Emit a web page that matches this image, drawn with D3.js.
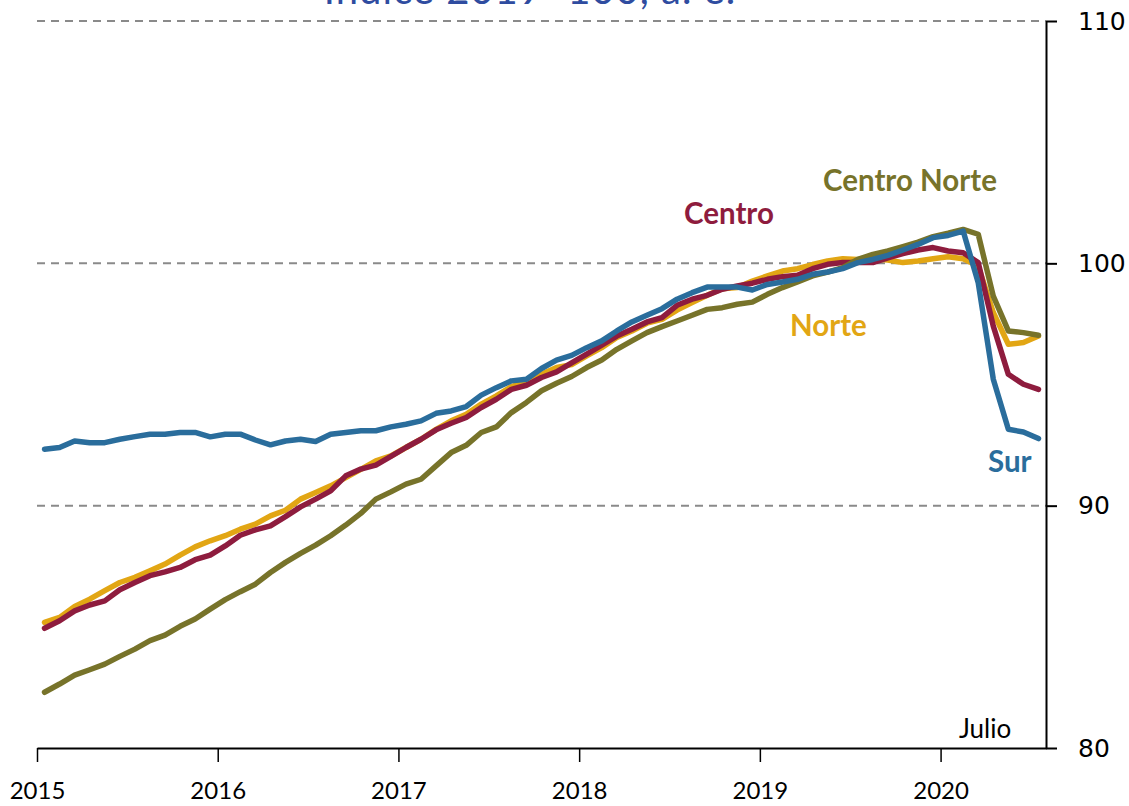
<!DOCTYPE html>
<html>
<head>
<meta charset="utf-8">
<script src="https://cdn.jsdelivr.net/npm/d3@7"></script>
<style>
  html, body { margin: 0; padding: 0; background: #fff; }
  svg { display: block; }
</style>
</head>
<body>
<svg id="chart" width="1129" height="806"></svg>
<script>
// ---- Data ----
const titleText = "Índice 2019=100, a. e.";
const years = ["2015", "2016", "2017", "2018", "2019", "2020"];
const months = d3.timeMonths(new Date(2015, 0, 1), new Date(2020, 7, 1)); // Jan 2015 .. Jul 2020
const yTicks = [80, 90, 100, 110];
const gridValues = [90, 100, 110];

const seriesNames = ["Norte", "Centro", "Centro Norte", "Sur"];

const norte = [
  85.18, 85.39, 85.84, 86.14, 86.49, 86.83, 87.04, 87.31, 87.59, 87.96, 88.30, 88.55,
  88.76, 89.03, 89.24, 89.58, 89.81, 90.27, 90.54, 90.82, 91.16, 91.50, 91.85, 92.05,
  92.40, 92.74, 93.15, 93.50, 93.77, 94.19, 94.53, 94.91, 95.11, 95.42, 95.70, 95.82,
  96.18, 96.52, 96.94, 97.21, 97.53, 97.69, 98.07, 98.38, 98.68, 98.95, 99.00, 99.27,
  99.48, 99.68, 99.78, 99.95, 100.10, 100.19, 100.16, 100.19, 100.14, 100.03, 100.10, 100.19,
  100.27, 100.19, 99.89, 97.97, 96.66, 96.73, 97.00
];
const centro = [
  84.94, 85.25, 85.66, 85.90, 86.07, 86.53, 86.83, 87.11, 87.27, 87.45, 87.77, 87.96,
  88.34, 88.78, 89.00, 89.17, 89.55, 89.95, 90.27, 90.61, 91.23, 91.51, 91.67, 92.03,
  92.40, 92.74, 93.13, 93.40, 93.64, 94.05, 94.39, 94.80, 94.97, 95.29, 95.52, 95.89,
  96.25, 96.62, 97.00, 97.28, 97.58, 97.76, 98.27, 98.52, 98.68, 98.93, 99.07, 99.18,
  99.34, 99.45, 99.51, 99.78, 99.96, 100.03, 100.03, 100.03, 100.23, 100.40, 100.55, 100.65,
  100.51, 100.44, 100.03, 97.41, 95.42, 95.01, 94.80
];
const centroNorte = [
  82.30, 82.64, 83.01, 83.23, 83.46, 83.78, 84.08, 84.43, 84.66, 85.02, 85.32, 85.73,
  86.12, 86.45, 86.76, 87.24, 87.66, 88.03, 88.37, 88.76, 89.20, 89.68, 90.27, 90.57,
  90.89, 91.09, 91.64, 92.19, 92.49, 93.02, 93.25, 93.84, 94.26, 94.74, 95.05, 95.33,
  95.70, 96.01, 96.45, 96.80, 97.14, 97.39, 97.62, 97.86, 98.10, 98.17, 98.31, 98.40,
  98.72, 99.00, 99.23, 99.48, 99.64, 99.82, 100.16, 100.37, 100.51, 100.69, 100.88, 101.10,
  101.24, 101.40, 101.20, 98.65, 97.21, 97.14, 97.03
];
const sur = [
  92.33, 92.40, 92.67, 92.60, 92.60, 92.74, 92.85, 92.95, 92.95, 93.02, 93.02, 92.84,
  92.95, 92.95, 92.71, 92.51, 92.67, 92.74, 92.65, 92.95, 93.02, 93.09, 93.09, 93.25,
  93.36, 93.50, 93.81, 93.91, 94.09, 94.56, 94.87, 95.15, 95.22, 95.66, 96.01, 96.20,
  96.52, 96.80, 97.21, 97.58, 97.86, 98.13, 98.52, 98.79, 99.02, 99.02, 99.02, 98.90,
  99.13, 99.23, 99.34, 99.55, 99.64, 99.78, 100.03, 100.16, 100.33, 100.55, 100.78, 101.06,
  101.15, 101.33, 99.20, 95.22, 93.15, 93.04, 92.77
];
const seriesValues = [norte, centro, centroNorte, sur];
const seriesColors = ["#E2A614", "#8E1C3E", "#77732A", "#2A6D9C"];

// ---- Layout ----
const svg = d3.select("#chart");
const plotLeft = 37, plotRight = 1046, plotTop = 21, plotBottom = 748;

const x = d3.scaleLinear().domain([0, months.length]).range([plotLeft, plotRight]);
const y = d3.scaleLinear().domain([80, 110]).range([plotBottom, plotTop]);

// title (cropped at the top edge, as in the source image)
svg.append("text")
  .attr("x", 530).attr("y", 4)
  .attr("text-anchor", "middle")
  .attr("font-family", "Lato, 'Open Sans', sans-serif")
  .attr("font-size", 40)
  .attr("letter-spacing", 1)
  .attr("fill", "#2F4CA0")
  .text(titleText);

// gridlines
svg.append("g").selectAll("line")
  .data(gridValues).join("line")
  .attr("x1", plotLeft).attr("x2", plotRight)
  .attr("y1", d => y(d)).attr("y2", d => y(d))
  .attr("stroke", "#8a8a8a")
  .attr("stroke-width", 2)
  .attr("stroke-dasharray", "8,6");

// x axis
const xAxis = d3.axisBottom(x)
  .tickValues(d3.range(0, months.length, 12))
  .tickFormat((d, i) => years[i])
  .tickSize(14)
  .tickSizeOuter(0)
  .tickPadding(20);
const gx = svg.append("g").attr("transform", `translate(0,${plotBottom})`).call(xAxis);
gx.select(".domain").attr("stroke", "#000").attr("stroke-width", 2);
gx.selectAll(".tick line").attr("stroke", "#000").attr("stroke-width", 1.5);
gx.selectAll(".tick text")
  .attr("font-family", "Lato, sans-serif")
  .attr("font-size", 24)
  .attr("fill", "#000");

// y axis (right)
const yAxis = d3.axisRight(y)
  .tickValues(yTicks)
  .tickSize(11)
  .tickSizeOuter(0)
  .tickPadding(21);
const gy = svg.append("g").attr("transform", `translate(${plotRight},0)`).call(yAxis);
gy.select(".domain").attr("stroke", "#000").attr("stroke-width", 2);
gy.selectAll(".tick line").attr("stroke", "#000").attr("stroke-width", 2);
gy.selectAll(".tick text")
  .attr("font-family", "'DejaVu Sans', sans-serif")
  .attr("font-size", 25)
  .attr("fill", "#000");

// lines
const line = d3.line()
  .x((d, i) => x(i + 0.5))
  .y(d => y(d));

svg.append("g").selectAll("path")
  .data(seriesValues).join("path")
  .attr("d", d => line(d))
  .attr("fill", "none")
  .attr("stroke", (d, i) => seriesColors[i])
  .attr("stroke-width", 5.5)
  .attr("stroke-linejoin", "round")
  .attr("stroke-linecap", "round");

// series labels
const labelPos = [
  { name: "Norte", x: 790, y: 336 },
  { name: "Centro", x: 684, y: 224 },
  { name: "Centro Norte", x: 823, y: 191 },
  { name: "Sur", x: 988, y: 472 }
];
svg.append("g").selectAll("text")
  .data(labelPos).join("text")
  .attr("x", d => d.x).attr("y", d => d.y)
  .attr("font-family", "Lato, sans-serif")
  .attr("font-weight", "bold")
  .attr("font-size", 29.5)
  .attr("fill", d => seriesColors[seriesNames.indexOf(d.name)])
  .text(d => d.name);

svg.append("text")
  .attr("x", 959).attr("y", 738)
  .attr("font-family", "Lato, sans-serif")
  .attr("font-size", 26)
  .attr("fill", "#000")
  .text("Julio");
</script>
</body>
</html>
